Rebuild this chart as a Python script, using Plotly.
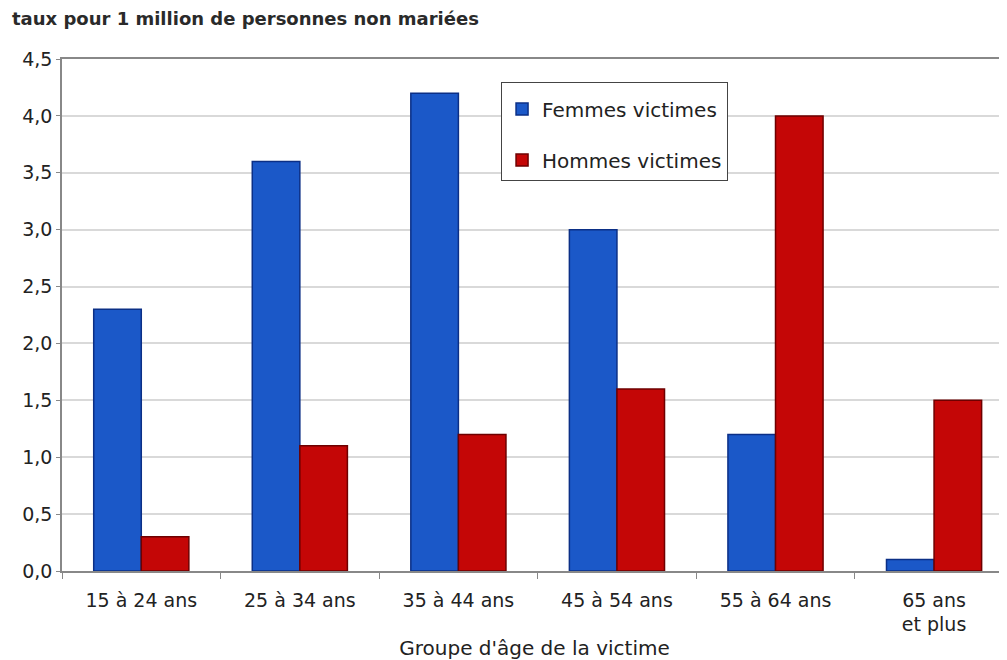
import plotly.graph_objects as go

categories = ["15 à 24 ans", "25 à 34 ans", "35 à 44 ans", "45 à 54 ans", "55 à 64 ans", "65 ans<br>et plus"]
femmes = [2.3, 3.6, 4.2, 3.0, 1.2, 0.1]
hommes = [0.3, 1.1, 1.2, 1.6, 4.0, 1.5]
y_ticks = [0, 0.5, 1.0, 1.5, 2.0, 2.5, 3.0, 3.5, 4.0, 4.5]

font = "DejaVu Sans, Verdana, sans-serif"

fig = go.Figure()
fig.add_trace(go.Bar(
    x=categories, y=femmes, name="Femmes victimes", legendgroup="f",
    marker=dict(color="#1b58c8", line=dict(color="#0b2f86", width=1.5)),
))
fig.add_trace(go.Bar(
    x=categories, y=hommes, name="Hommes victimes", legendgroup="h",
    marker=dict(color="#c40606", line=dict(color="#6e0000", width=1.5)),
))

fig.update_layout(
    width=999, height=652,
    margin=dict(l=54, r=0, t=51, b=89),
    paper_bgcolor="white", plot_bgcolor="white",
    separators=", ",
    barmode="group", bargap=0.4, bargroupgap=0,
    font=dict(family=font, size=19, color="#222222"),
    showlegend=True,
    legend=dict(
        x=0.4646, y=0.955, xanchor="left", yanchor="top",
        bordercolor="#444444", borderwidth=1, bgcolor="white",
        font=dict(size=20, color="#222222"),
        traceorder="grouped", tracegroupgap=22, itemwidth=30,
        title=dict(text=" ", font=dict(size=5)),
    ),
    annotations=[dict(
        text="<b>taux pour 1 million de personnes non mariées</b>",
        xref="paper", yref="paper", x=-0.055, y=1.08, xanchor="left", yanchor="middle",
        showarrow=False, font=dict(size=18, color="#2a2a2a", family=font),
    )],
    xaxis=dict(
        title=dict(text="Groupe d'âge de la victime", font=dict(size=20), standoff=8),
        showline=True, linecolor="#888888", linewidth=1.5, mirror=True,
        ticks="outside", tickson="boundaries", ticklen=6, tickcolor="#888888",
        showgrid=False, tickfont=dict(size=19), ticklabelstandoff=11,
        range=[-0.5, 5.46], automargin=False,
    ),
    yaxis=dict(
        range=[0, 4.5], tickvals=y_ticks, tickformat=".1f",
        showline=True, linecolor="#888888", linewidth=1.5,
        ticks="outside", ticklen=4, tickcolor="#888888",
        gridcolor="#d9d9d9", gridwidth=1.5, zeroline=False,
        tickfont=dict(size=19), automargin=False,
    ),
)

fig.write_html("out.html")
